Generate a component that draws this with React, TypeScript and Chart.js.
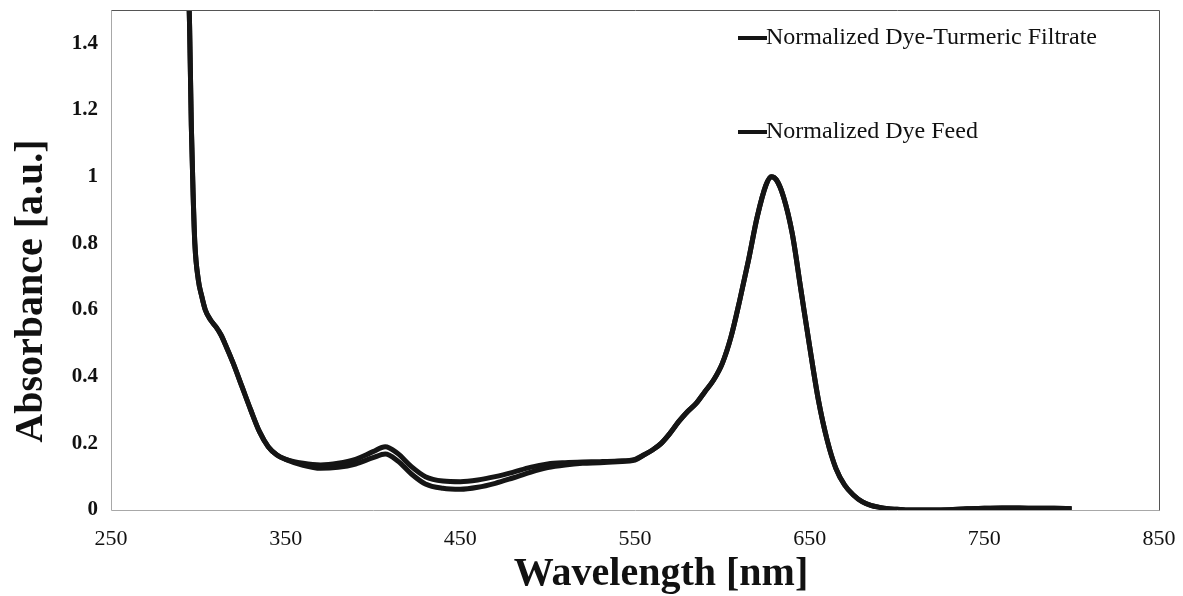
import React, { useEffect, useRef } from "react";
import { Chart, registerables } from "chart.js";

Chart.register(...registerables);

const wavelengths = [
  290, 295, 296, 297, 298, 300, 302, 304, 307, 310, 313, 316, 320, 325, 330, 335, 340, 345, 350,
  360, 370, 380, 390, 400, 407, 414, 422, 430, 440, 450, 460, 470, 480, 490, 500, 510, 520, 530, 540,
  550, 555, 560, 565, 570, 575, 580, 585, 590, 595, 600, 605, 610, 615, 620, 625, 628, 631, 635, 640,
  645, 650, 655, 660, 665, 670, 675, 680, 685, 690, 695, 700, 705, 710, 720, 730, 740, 750, 760, 770,
  780, 790, 800,
];

const filtrateValues = [
  2.5, 1.45, 1.15, 0.95, 0.8, 0.69, 0.64, 0.6, 0.57, 0.55, 0.525, 0.49, 0.44, 0.37, 0.3, 0.235, 0.19, 0.165, 0.152,
  0.14, 0.135, 0.14, 0.152, 0.175, 0.19, 0.17, 0.13, 0.1, 0.087, 0.085, 0.09, 0.1, 0.113, 0.128, 0.138, 0.142, 0.144, 0.145, 0.147,
  0.152, 0.165, 0.18, 0.2, 0.23, 0.265, 0.295, 0.32, 0.355, 0.39, 0.44, 0.52, 0.63, 0.75, 0.88, 0.975, 1.0, 0.99, 0.94, 0.83,
  0.66, 0.49, 0.33, 0.21, 0.125, 0.075, 0.045, 0.025, 0.014, 0.008, 0.004, 0.002, 0, 0, 0, 0.001, 0.004, 0.005, 0.006, 0.006,
  0.005, 0.005, 0.004,
];

const feedValues = [
  2.5, 1.45, 1.15, 0.95, 0.8, 0.69, 0.64, 0.6, 0.57, 0.55, 0.525, 0.49, 0.44, 0.37, 0.3, 0.235, 0.19, 0.165, 0.152,
  0.134, 0.125, 0.128, 0.138, 0.157, 0.168, 0.148, 0.108, 0.078, 0.065, 0.062, 0.068, 0.08, 0.096, 0.113, 0.127, 0.135, 0.14, 0.142, 0.145,
  0.15, 0.165, 0.18, 0.2, 0.23, 0.265, 0.295, 0.32, 0.355, 0.39, 0.44, 0.52, 0.63, 0.75, 0.88, 0.975, 1.0, 0.99, 0.94, 0.83,
  0.66, 0.49, 0.33, 0.21, 0.125, 0.075, 0.045, 0.025, 0.014, 0.008, 0.004, 0.002, 0, 0, 0, 0.001, 0.004, 0.005, 0.006, 0.006,
  0.005, 0.005, 0.004,
];

const seriesLabels = ["Normalized Dye-Turmeric Filtrate", "Normalized Dye Feed"];
const xTitle = "Wavelength [nm]";
const yTitle = "Absorbance [a.u.]";
const xTickValues = [250, 350, 450, 550, 650, 750, 850];
const yTickValues = [0, 0.2, 0.4, 0.6, 0.8, 1, 1.2, 1.4];

const SERIF = "'Liberation Serif', 'Times New Roman', serif";

const framePlugin = {
  id: "frameAndTitles",
  afterDraw(chart: any) {
    const { ctx, chartArea } = chart;
    const l = chartArea.left + 0.5;
    const r = chartArea.right + 0.5;
    const t = chartArea.top + 0.5;
    const b = chartArea.bottom + 0.5;
    ctx.save();
    ctx.lineWidth = 1;
    ctx.strokeStyle = "#a8a8a8";
    ctx.beginPath();
    ctx.moveTo(l, t);
    ctx.lineTo(l, b);
    ctx.lineTo(r, b);
    ctx.stroke();
    ctx.strokeStyle = "#555";
    ctx.beginPath();
    ctx.moveTo(l, t);
    ctx.lineTo(r, t);
    ctx.lineTo(r, b);
    ctx.stroke();

    // axis titles
    ctx.fillStyle = "#111";
    ctx.font = `bold 40px ${SERIF}`;
    ctx.textAlign = "center";
    ctx.textBaseline = "middle";
    ctx.fillText(xTitle, 661, 575);
    ctx.translate(32, 291);
    ctx.rotate(-Math.PI / 2);
    ctx.fillText(yTitle, 0, 0);
    ctx.restore();

    // legend
    ctx.save();
    ctx.font = `24px ${SERIF}`;
    ctx.textAlign = "left";
    ctx.textBaseline = "middle";
    chart.data.datasets.forEach((ds: any, i: number) => {
      const y = 38 + i * 94;
      ctx.strokeStyle = ds.borderColor;
      ctx.lineWidth = 4;
      ctx.beginPath();
      ctx.moveTo(738, y);
      ctx.lineTo(767, y);
      ctx.stroke();
      ctx.fillStyle = "#111";
      ctx.fillText(ds.label, 766, y);
    });
    ctx.restore();
  },
};

export default function App() {
  const ref = useRef<HTMLCanvasElement | null>(null);

  useEffect(() => {
    if (!ref.current) return;
    const chart = new Chart(ref.current, {
      type: "line",
      data: {
        datasets: [
          {
            label: seriesLabels[0],
            data: wavelengths.map((x, i) => ({ x, y: filtrateValues[i] })),
            borderColor: "#151515",
            borderWidth: 5,
            pointRadius: 0,
            cubicInterpolationMode: "monotone",
            fill: false,
          },
          {
            label: seriesLabels[1],
            data: wavelengths.map((x, i) => ({ x, y: feedValues[i] })),
            borderColor: "#151515",
            borderWidth: 5,
            pointRadius: 0,
            cubicInterpolationMode: "monotone",
            fill: false,
          },
        ],
      },
      options: {
        animation: false,
        responsive: true,
        maintainAspectRatio: false,
        layout: { padding: { left: 0, right: 24, top: 10, bottom: 0 } },
        plugins: { legend: { display: false }, tooltip: { enabled: false } },
        scales: {
          x: {
            type: "linear",
            min: 250,
            max: 850,
            grid: { display: false, drawTicks: false },
            border: { display: false },
            afterBuildTicks: (s: any) => {
              s.ticks = xTickValues.map((v) => ({ value: v }));
            },
            afterFit: (s: any) => {
              s.height = 86;
              s.paddingLeft = 0;
              s.paddingRight = 0;
            },
            ticks: {
              padding: 16,
              color: "#111",
              font: { family: SERIF, size: 22 },
              maxRotation: 0,
            },
          },
          y: {
            type: "linear",
            min: 0,
            max: 1.5,
            grid: { display: false, drawTicks: false },
            border: { display: false },
            afterBuildTicks: (s: any) => {
              s.ticks = yTickValues.map((v) => ({ value: v }));
            },
            afterFit: (s: any) => {
              s.width = 111;
              s.paddingTop = 0;
              s.paddingBottom = 0;
            },
            ticks: {
              padding: 13,
              color: "#111",
              font: { family: SERIF, size: 21, weight: "bold" },
              callback: (v: any) => String(Math.round(Number(v) * 10) / 10),
            },
          },
        },
      },
      plugins: [framePlugin],
    });
    return () => chart.destroy();
  }, []);

  return (
    <div style={{ position: "absolute", left: 0, top: 0, width: 1183, height: 596, background: "#fff" }}>
      <canvas ref={ref} />
    </div>
  );
}
